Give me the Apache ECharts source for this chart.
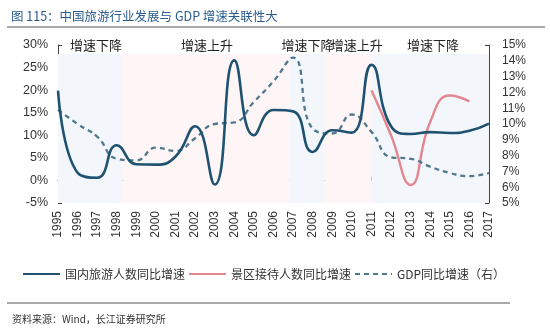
<!DOCTYPE html>
<html>
<head>
<meta charset="utf-8">
<script src="https://cdn.jsdelivr.net/npm/echarts@6/dist/echarts.min.js"></script>
<style>
html,body{margin:0;padding:0;background:#fff;}
#c{width:550px;height:328px;}
</style>
</head>
<body>
<div id="c"></div>
<script>
var titleText = '图 115：中国旅游行业发展与 GDP 增速关联性大';
var sourceText = '资料来源：Wind，长江证券研究所';
var years = [1995,1996,1997,1998,1999,2000,2001,2002,2003,2004,2005,2006,2007,2008,2009,2010,2011,2012,2013,2014,2015,2016,2017];
var domesticGrowth = [19.9,1.7,0.6,7.8,3.6,3.5,5.3,12.0,-0.9,26.6,10.0,15.6,15.3,6.3,11.1,10.6,25.6,12.0,10.3,10.7,10.5,11.0,12.6];
var scenicYears = [2011,2012,2013,2014,2015,2016];
var scenicGrowth = [20.0,10.0,-1.0,13.0,18.8,17.5];
var gdpGrowth = [10.9,10.0,9.2,7.8,7.7,8.5,8.3,9.1,10.0,10.1,11.4,12.7,14.2,9.7,9.4,10.6,9.5,7.9,7.8,7.3,6.9,6.7,6.9];
var seriesNames = ['国内旅游人数同比增速','景区接待人数同比增速','GDP同比增速（右）'];
var leftTicks = {min:-5, max:30, interval:5};
var rightTicks = {min:5, max:15, interval:1};
var bandStarts = [1995,1998.3,2006.8,2008.6,2011];
var bandEnds = [1998.3,2006.8,2008.6,2011,2017];
var bandKinds = ['down','up','down','up','down'];
var bandTop = 28;
var phaseLabels = ['增速下降','增速上升','增速下降','增速上升','增速下降'];
var phaseX = [1996.94,2002.6,2007.74,2010.25,2014.14];

var FONT = '"Liberation Sans", Arial, "Noto Sans CJK SC", sans-serif';
var CJK = '"Noto Sans CJK SC", sans-serif';
var bandColor = {down:'#f3f7fb', up:'#fdf5f6'};

function pairs(xs, ys){ return xs.map(function(x,i){return [x, ys[i]];}); }

var chart = echarts.init(document.getElementById('c'), null, {renderer:'canvas'});
chart.setOption({
  animation:false,
  backgroundColor:'#fff',
  textStyle:{fontFamily:FONT},
  title:[
    {text:titleText, left:6, top:5, textStyle:{fontFamily:CJK, fontSize:12.5, fontWeight:'normal', color:'#2b5c8f'}},
    {text:sourceText, left:7, top:309, textStyle:{fontFamily:CJK, fontSize:10, fontWeight:'normal', color:'#333'}}
  ],
  graphic:[
    {type:'line', shape:{x1:7,y1:27,x2:545,y2:27}, style:{stroke:'#555', lineWidth:1}},
    {type:'line', shape:{x1:7,y1:303,x2:510,y2:303}, style:{stroke:'#555', lineWidth:1}}
  ],
  legend:{
    data:seriesNames,
    left:17, top:263,
    itemWidth:37, itemHeight:10, itemGap:3,
    itemStyle:{opacity:0, color:'transparent', borderWidth:0},
    textStyle:{fontFamily:CJK, fontSize:12, color:'#333'}
  },
  grid:{left:58, right:61, top:45, bottom:125, containLabel:false},
  xAxis:[
    {type:'value', position:'bottom', min:1995, max:2017, interval:1,
     axisLine:{show:false, onZero:false}, axisTick:{show:false}, splitLine:{show:false},
     axisLabel:{rotate:90, margin:8, fontSize:12, color:'#333', fontFamily:FONT, formatter:function(v){return String(v);}}},
    {type:'value', position:'top', min:1995, max:2017, interval:1,
     axisLine:{show:true, onZero:true, onZeroAxisIndex:0, lineStyle:{color:'#444', width:1}},
     axisTick:{show:true, inside:false, length:4, lineStyle:{color:'#444'}},
     axisLabel:{show:false}, splitLine:{show:false}}
  ],
  yAxis:[
    {type:'value', min:leftTicks.min, max:leftTicks.max, interval:leftTicks.interval, position:'left',
     axisLine:{show:true, lineStyle:{color:'#444'}}, axisTick:{show:true, inside:true, length:4, lineStyle:{color:'#444'}},
     splitLine:{show:false},
     axisLabel:{margin:10, fontSize:12.5, color:'#333', formatter:'{value}%'}},
    {type:'value', min:rightTicks.min, max:rightTicks.max, interval:rightTicks.interval, position:'right',
     axisLine:{show:true, lineStyle:{color:'#444'}}, axisTick:{show:true, inside:true, length:4, lineStyle:{color:'#444'}},
     splitLine:{show:false},
     axisLabel:{margin:13, fontSize:12, color:'#333', formatter:'{value}%'}}
  ],
  series:[
    {name:'_bands', type:'line', xAxisIndex:0, yAxisIndex:0, data:[], silent:true,
     markArea:{silent:true, data: bandStarts.map(function(s,i){
        return [{coord:[s, leftTicks.min], itemStyle:{color:bandColor[bandKinds[i]]}}, {coord:[bandEnds[i], bandTop]}];
     })},
     markPoint:{silent:true, symbol:'rect', symbolSize:0,
       label:{show:true, position:'inside', fontFamily:CJK, fontSize:13, color:'#222', formatter:function(p){return p.name;}},
       data: phaseLabels.map(function(t,i){ return {name:t, coord:[phaseX[i], leftTicks.max]}; })}
    },
    {name:seriesNames[0], type:'line', xAxisIndex:0, yAxisIndex:0, data:pairs(years, domesticGrowth),
     smooth:0.5, symbol:'none', lineStyle:{color:'#1f5270', width:2.6}, itemStyle:{color:'#1f5270'}, z:4},
    {name:seriesNames[1], type:'line', xAxisIndex:0, yAxisIndex:0, data:pairs(scenicYears, scenicGrowth),
     smooth:0.5, symbol:'none', lineStyle:{color:'#e3868f', width:2.4}, itemStyle:{color:'#e3868f'}, z:3},
    {name:seriesNames[2], type:'line', xAxisIndex:0, yAxisIndex:1, data:pairs(years, gdpGrowth),
     smooth:0.5, symbol:'none', lineStyle:{color:'#52788e', width:2.3, type:[5,4]}, itemStyle:{color:'#52788e'}, z:3}
  ]
});
</script>
</body>
</html>
